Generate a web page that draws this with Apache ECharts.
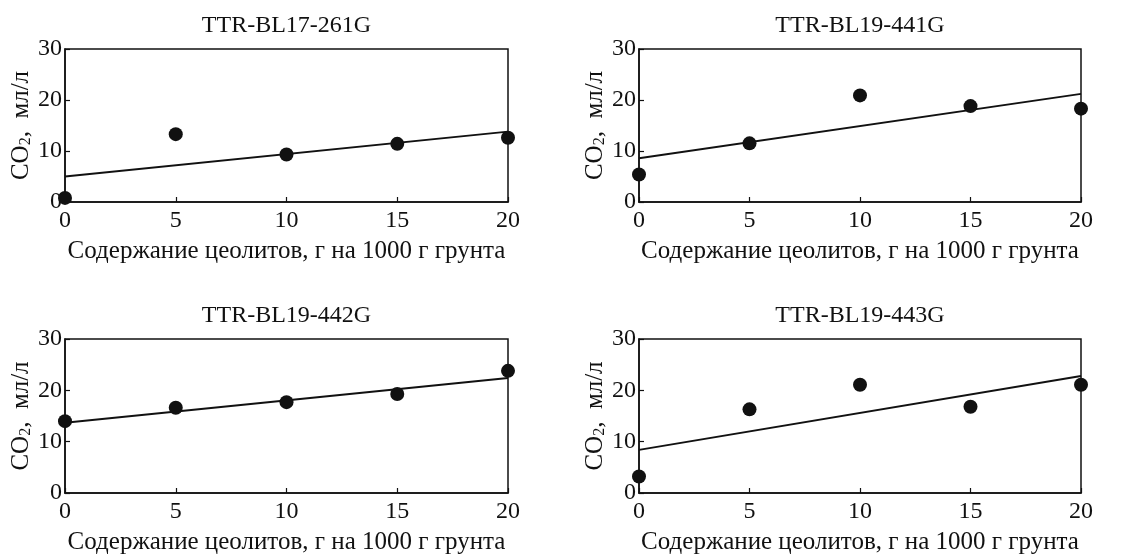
<!DOCTYPE html>
<html>
<head>
<meta charset="utf-8">
<script src="https://cdn.jsdelivr.net/npm/echarts@6/dist/echarts.min.js"></script>
<style>
html,body{margin:0;padding:0;background:#fff;}
#chart{width:1141px;height:556px;}
</style>
</head>
<body>
<div id="chart"></div>
<script>
// ---- data ----
const titles = ['TTR-BL17-261G', 'TTR-BL19-441G', 'TTR-BL19-442G', 'TTR-BL19-443G'];
const xValues = [0, 5, 10, 15, 20];
const pts261 = [0.8, 13.3, 9.3, 11.4, 12.6];
const pts441 = [5.4, 11.5, 20.9, 18.8, 18.3];
const pts442 = [14.0, 16.6, 17.7, 19.3, 23.8];
const pts443 = [3.2, 16.3, 21.1, 16.8, 21.1];
const fitX = [0, 20];
const fit261 = [5.0, 13.8];
const fit441 = [8.6, 21.2];
const fit442 = [13.7, 22.4];
const fit443 = [8.4, 22.8];
const xTicks = [0, 5, 10, 15, 20];
const yTicks = [0, 10, 20, 30];
const xName = 'Содержание цеолитов, г на 1000 г грунта';

const pointsAll = [pts261, pts441, pts442, pts443];
const fitsAll = [fit261, fit441, fit442, fit443];

const FONT = '"Liberation Serif", "Times New Roman", serif';
const grids = [
  {left: 65, top: 49, width: 443, height: 153},
  {left: 639, top: 49, width: 442, height: 153},
  {left: 65, top: 339, width: 443, height: 154},
  {left: 639, top: 339, width: 442, height: 154}
];

const option = {
  backgroundColor: '#fff',
  animation: false,
  title: grids.map((g, i) => ({
    text: titles[i],
    left: g.left + g.width / 2,
    top: g.top - 35,
    textAlign: 'center',
    padding: 0,
    textStyle: {fontFamily: FONT, fontSize: 24, fontWeight: 'normal', color: '#111'}
  })),
  grid: grids.map(g => Object.assign({show: true, borderColor: '#111', borderWidth: 1.5, backgroundColor: 'transparent'}, g)),
  xAxis: grids.map((g, i) => ({
    type: 'value', gridIndex: i, min: xTicks[0], max: xTicks[xTicks.length - 1], interval: 5,
    name: xName, nameLocation: 'middle', nameGap: 37,
    nameTextStyle: {fontFamily: FONT, fontSize: 25, color: '#111'},
    axisLine: {show: true, lineStyle: {color: '#111', width: 1.5}},
    axisTick: {show: true, inside: true, length: 5, lineStyle: {color: '#111', width: 1.2}},
    axisLabel: {fontFamily: FONT, fontSize: 24, color: '#111', margin: 7},
    splitLine: {show: false}
  })),
  yAxis: grids.map((g, i) => ({
    type: 'value', gridIndex: i, min: yTicks[0], max: yTicks[yTicks.length - 1], interval: 10,
    name: '{a|CO}{b|2}{a|,  мл/л}', nameLocation: 'middle', nameGap: 31, nameRotate: 90,
    nameTextStyle: {
      rich: {
        a: {fontFamily: FONT, fontSize: 25, color: '#111', verticalAlign: 'bottom', lineHeight: 28},
        b: {fontFamily: FONT, fontSize: 16, color: '#111', verticalAlign: 'bottom', lineHeight: 22}
      }
    },
    axisLine: {show: true, lineStyle: {color: '#111', width: 1.5}},
    axisTick: {show: true, inside: true, length: 5, lineStyle: {color: '#111', width: 1.2}},
    axisLabel: {fontFamily: FONT, fontSize: 24, color: '#111', margin: 3},
    splitLine: {show: false}
  })),
  series: [].concat(
    fitsAll.map((f, i) => ({
      type: 'line', xAxisIndex: i, yAxisIndex: i, showSymbol: false, symbol: 'none',
      data: fitX.map((x, k) => [x, f[k]]),
      lineStyle: {color: '#111', width: 2}, z: 2
    })),
    pointsAll.map((p, i) => ({
      type: 'scatter', xAxisIndex: i, yAxisIndex: i, symbol: 'circle', symbolSize: 14, clip: false,
      data: xValues.map((x, k) => [x, p[k]]),
      itemStyle: {color: '#111', opacity: 1}, z: 3
    }))
  )
};
const chart = echarts.init(document.getElementById('chart'), null, {renderer: 'canvas'});
chart.setOption(option);
</script>
</body>
</html>
